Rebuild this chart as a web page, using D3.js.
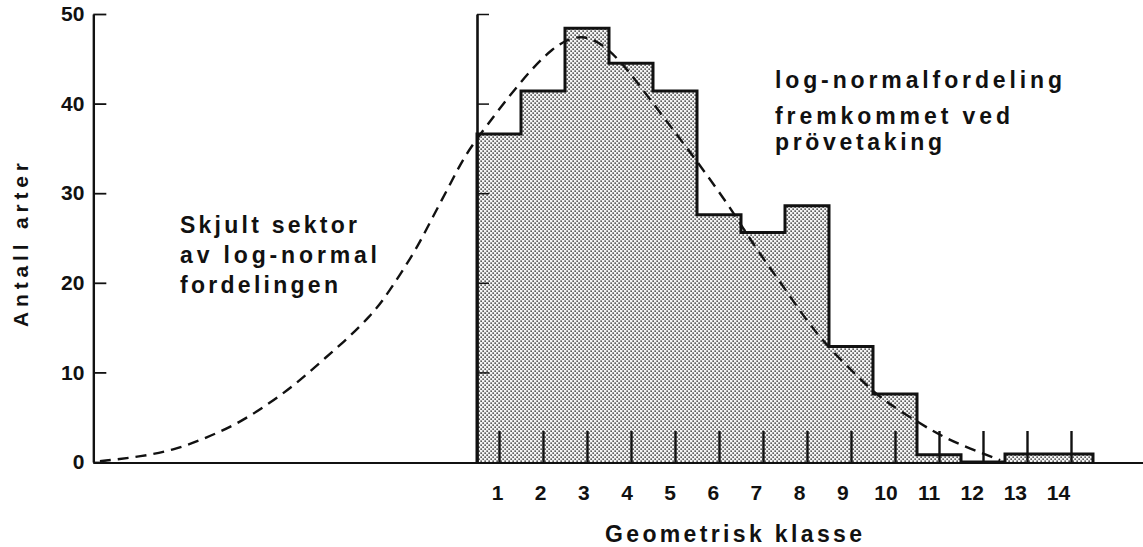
<!DOCTYPE html>
<html>
<head>
<meta charset="utf-8">
<script src="https://cdn.jsdelivr.net/npm/d3@7"></script>
<style>
  html, body { margin: 0; padding: 0; background: #ffffff; }
  svg { display: block; }
  text { font-family: "Liberation Sans", Arial, sans-serif; font-weight: bold; fill: #111; }
</style>
</head>
<body>
<svg id="chart" width="1143" height="547"></svg>
<script>
// ---------- data ----------
const classes = [1, 2, 3, 4, 5, 6, 7, 8, 9, 10, 11, 12, 13, 14];
const counts  = [36.6, 41.4, 48.4, 44.5, 41.4, 27.6, 25.6, 28.6, 12.9, 7.6, 0.8, 0, 0.9, 0.9];
const yTicks  = [0, 10, 20, 30, 40, 50];
// fitted log-normal curve (class units, number of species)
const curveK = [-8.07, -7.84, -7.16, -6.41, -5.64, -4.89, -4.20, -3.59, -3.00, -2.39, -1.93, -1.64, -1.25, -0.84, -0.50, -0.11, 0.23, 0.73, 1.41, 2.23, 2.9, 3.45, 3.91, 4.66, 5.34, 5.73, 6.18, 6.55, 6.93, 7.39, 7.68, 8.07, 8.52, 9.20, 9.50, 9.89, 10.57, 11.09, 11.70, 12.39];
const curveV = [0.1, 0.2, 0.6, 1.3, 2.7, 4.4, 6.6, 8.8, 11.4, 14.0, 16.3, 18.0, 20.9, 24.1, 27.4, 31.0, 34.3, 37.6, 42.0, 46.5, 47.9, 46.3, 43.9, 39.0, 34.6, 32.0, 28.9, 26.1, 23.2, 20.1, 18.0, 15.3, 12.6, 9.3, 7.9, 6.4, 4.3, 2.8, 1.5, 0.2];
const yTitle = "Antall arter";
const xTitle = "Geometrisk klasse";
const leftNote  = ["Skjult sektor", "av log-normal", "fordelingen"];
const rightNote = ["log-normalfordeling", "fremkommet ved", "prövetaking"];

// ---------- scales ----------
const svg = d3.select("#chart");
const x = d3.scaleLinear().domain([0.5, 14.5]).range([477, 1093]);
const y = d3.scaleLinear().domain([0, 50]).range([462, 14]);
const kMin = -8.22, kMax = 15.7;
const FONT = "\"Liberation Sans\", Arial, sans-serif";

// dotted screen pattern
const defs = svg.append("defs");
const pat = defs.append("pattern").attr("id", "dots")
  .attr("width", 4).attr("height", 4).attr("patternUnits", "userSpaceOnUse");
pat.append("rect").attr("width", 4).attr("height", 4).attr("fill", "#f4f4f4");
pat.append("rect").attr("x", 0.4).attr("y", 0.4).attr("width", 1.5).attr("height", 1.5).attr("fill", "#3a3a3a");
pat.append("rect").attr("x", 2.4).attr("y", 2.4).attr("width", 1.5).attr("height", 1.5).attr("fill", "#3a3a3a");

// ---------- bars ----------
svg.append("g").selectAll("rect").data(classes).join("rect")
  .attr("x", (d) => x(d - 0.5))
  .attr("y", (d, i) => y(counts[i]))
  .attr("width", (d) => x(d + 0.5) - x(d - 0.5))
  .attr("height", (d, i) => y(0) - y(counts[i]))
  .attr("fill", "url(#dots)");

// step outline of the histogram
const outline = [[0.5, 0]];
classes.forEach((c, i) => { outline.push([c - 0.5, counts[i]]); outline.push([c + 0.5, counts[i]]); });
outline.push([14.5, 0]);
svg.append("path")
  .attr("d", d3.line().x((d) => x(d[0])).y((d) => y(d[1]))(outline))
  .attr("fill", "none").attr("stroke", "#111").attr("stroke-width", 3)
  .attr("stroke-linejoin", "miter");

// baseline
svg.append("line")
  .attr("x1", x(kMin)).attr("x2", x(kMax))
  .attr("y1", y(0) + 1).attr("y2", y(0) + 1)
  .attr("stroke", "#111").attr("stroke-width", 1.8);

// ---------- left y axis ----------
const yAxis = svg.append("g").attr("transform", `translate(${x(kMin)},0)`)
  .call(d3.axisLeft(y).tickValues(yTicks).tickSize(-13).tickSizeOuter(0).tickPadding(9));
yAxis.select(".domain").attr("stroke", "#111").attr("stroke-width", 2.4);
yAxis.selectAll(".tick line").attr("stroke", "#111").attr("stroke-width", 1.8);
yAxis.selectAll(".tick text").style("font-size", "21px").attr("fill", "#111")
  .style("font-family", FONT).style("font-weight", "bold");

// second axis at the histogram's left edge
const y2 = svg.append("g").attr("transform", `translate(${x(0.5)},0)`)
  .call(d3.axisRight(y).tickValues(yTicks.slice(1)).tickSize(12).tickSizeOuter(0).tickFormat(""));
y2.select(".domain").attr("stroke", "#111").attr("stroke-width", 2.6);
y2.selectAll(".tick line").attr("stroke", "#111").attr("stroke-width", 1.5);

// ---------- x axis (class marks + labels) ----------
const labelShift = d3.scaleLinear().domain([1, 14]).range([-2, -13]);
const xAxis = svg.append("g").attr("transform", `translate(0,${y(0)})`)
  .call(d3.axisBottom(x).tickValues(classes).tickSize(-31).tickPadding(23).tickFormat(d3.format("d")));
xAxis.select(".domain").remove();
xAxis.selectAll(".tick line").attr("stroke", "#111").attr("stroke-width", 2.4);
xAxis.selectAll(".tick text").style("font-size", "21px").attr("fill", "#111")
  .style("font-family", FONT).style("font-weight", "bold")
  .attr("dx", (d) => labelShift(d));

// ---------- log-normal curve ----------
const curvePts = curveK.map((k, i) => [k, curveV[i]]);
svg.append("path")
  .attr("d", d3.line().x((d) => x(d[0])).y((d) => y(d[1])).curve(d3.curveBasis)(curvePts))
  .attr("fill", "none").attr("stroke", "#111").attr("stroke-width", 2.4)
  .attr("stroke-dasharray", "11,7");

// ---------- titles ----------
svg.append("text")
  .attr("transform", `translate(28,${(y(0) + y(50)) / 2 + 7}) rotate(-90)`)
  .attr("text-anchor", "middle").style("font-size", "21px")
  .attr("textLength", 164).attr("lengthAdjust", "spacing")
  .text(yTitle);

svg.append("text")
  .attr("x", 605).attr("y", 542).style("font-size", "23px")
  .attr("textLength", 257).attr("lengthAdjust", "spacing")
  .text(xTitle);

// ---------- annotations ----------
const leftY = [233, 263, 293];
const leftW = [177, 197, 158];
svg.append("g").selectAll("text").data(leftNote).join("text")
  .attr("x", 180).attr("y", (d, i) => leftY[i])
  .style("font-size", "23px")
  .attr("textLength", (d, i) => leftW[i]).attr("lengthAdjust", "spacing")
  .text((d) => d);

const rightY = [88, 124, 150];
const rightW = [287, 235, 167];
svg.append("g").selectAll("text").data(rightNote).join("text")
  .attr("x", 775).attr("y", (d, i) => rightY[i])
  .style("font-size", "23px")
  .attr("textLength", (d, i) => rightW[i]).attr("lengthAdjust", "spacing")
  .text((d) => d);
</script>
</body>
</html>
